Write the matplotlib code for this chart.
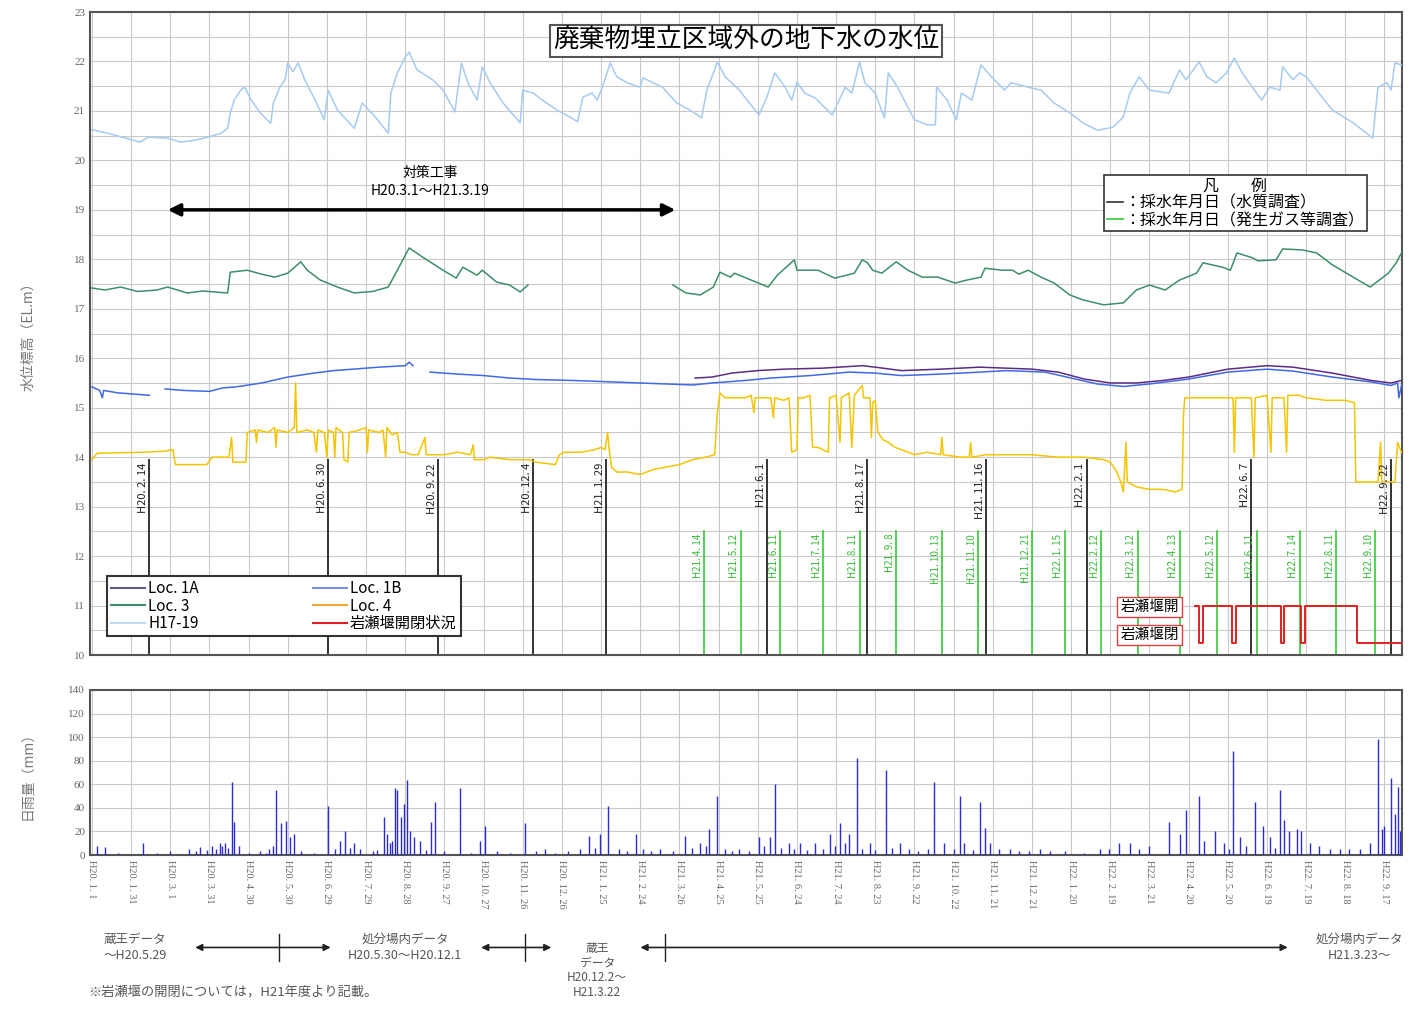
import matplotlib
matplotlib.use("Agg")
import matplotlib.pyplot as plt
import numpy as np
from matplotlib.lines import Line2D
from datetime import date

plt.rcParams['font.family'] = ['Noto Sans CJK JP', 'DejaVu Sans']

# ---- data (day = days since H20.1.1) ----
h17_days = [0, 12, 37, 43, 58, 68, 79, 89, 99, 104, 106, 109, 114, 117, 122, 129, 137, 139, 144, 148, 150, 154, 158,
            163, 171, 178, 181, 188, 201, 207, 217, 227, 229, 234, 240, 243, 249, 261, 269, 278, 283, 288, 295, 299,
            305, 315, 328, 330, 338, 345, 356, 366, 372, 376, 383, 387, 391, 397, 402, 410, 420, 422, 437, 448, 458,
            467, 471, 476, 479, 485, 496, 500, 511, 517, 523, 531, 536, 540, 546, 554, 567, 577, 582, 588, 592, 600,
            607, 610, 617, 630, 640, 646, 647, 655, 662, 666, 674, 681, 689, 699, 704, 717, 727, 737, 749, 759, 770,
            782, 790, 795, 802, 810, 825, 833, 838, 848, 854, 861, 869, 875, 881, 892, 896, 902, 910, 912, 920, 925,
            930, 938, 950, 966, 981, 985, 992, 995, 998, 1003]
h17_vals = [20.62, 20.55, 20.37, 20.47, 20.45, 20.37, 20.41, 20.47, 20.55, 20.65, 20.96, 21.22, 21.42, 21.48, 21.22,
            20.96, 20.75, 21.16, 21.48, 21.63, 21.97, 21.79, 21.97, 21.63, 21.22, 20.82, 21.42, 21.02, 20.65, 21.16,
            20.88, 20.55, 21.36, 21.77, 22.09, 22.19, 21.83, 21.63, 21.42, 20.98, 21.97, 21.57, 21.22, 21.89, 21.57,
            21.16, 20.76, 21.42, 21.36, 21.22, 21.02, 20.88, 20.78, 21.28, 21.36, 21.22, 21.48, 21.97, 21.69, 21.57,
            21.48, 21.67, 21.48, 21.16, 21.02, 20.86, 21.42, 21.77, 21.99, 21.69, 21.42, 21.28, 20.92, 21.28, 21.77,
            21.48, 21.22, 21.58, 21.36, 21.26, 20.92, 21.48, 21.36, 21.99, 21.57, 21.36, 20.86, 21.77, 21.48, 20.82,
            20.72, 20.72, 21.48, 21.22, 20.82, 21.36, 21.22, 21.93, 21.69, 21.42, 21.57, 21.48, 21.42, 21.16, 20.96,
            20.76, 20.61, 20.67, 20.88, 21.36, 21.69, 21.42, 21.36, 21.83, 21.63, 21.99, 21.69, 21.57, 21.77, 22.07,
            21.77, 21.36, 21.22, 21.48, 21.42, 21.89, 21.63, 21.77, 21.69, 21.42, 21.02, 20.76, 20.45, 21.48, 21.57,
            21.42, 21.97, 21.93]

loc3_days = [0, 10, 22, 35, 50, 58, 73, 85, 94, 104, 106, 119, 130, 140, 150, 160, 165, 175, 188, 201, 215, 227, 237,
             243, 253, 269, 279, 284, 295, 299, 310, 320, 328, 334, 335,
             445, 455, 466, 476, 481, 489, 492, 505, 518, 525, 538, 540, 556, 569, 584, 590, 594, 598, 605, 616, 625,
             636, 648, 661, 670, 681, 684, 697, 705, 710, 717, 727, 737, 749, 759, 775, 790, 800, 810, 822, 833, 846,
             851, 866, 872, 877, 889, 893, 907, 912, 927, 938, 950, 966, 979, 986, 993, 999, 1003]
loc3_vals = [17.42, 17.38, 17.44, 17.35, 17.38, 17.44, 17.32, 17.36, 17.34, 17.32, 17.74, 17.78, 17.7, 17.64, 17.72,
             17.95, 17.78, 17.58, 17.44, 17.32, 17.35, 17.44, 17.93, 18.23, 18.05, 17.78, 17.62, 17.84, 17.68, 17.78,
             17.54, 17.48, 17.34, 17.48, np.nan,
             17.48, 17.32, 17.28, 17.44, 17.74, 17.64, 17.72, 17.58, 17.44, 17.68, 17.99, 17.78, 17.78, 17.62, 17.72,
             17.99, 17.93, 17.78, 17.72, 17.95, 17.78, 17.64, 17.64, 17.52, 17.58, 17.64, 17.82, 17.78, 17.78, 17.7,
             17.78, 17.64, 17.52, 17.28, 17.18, 17.08, 17.12, 17.38, 17.48, 17.38, 17.58, 17.72, 17.93, 17.84, 17.78,
             18.13, 18.03, 17.97, 17.99, 18.21, 18.19, 18.13, 17.89, 17.64, 17.44, 17.58, 17.72, 17.93, 18.13]

loc1b_days = [0, 6, 8, 9, 20, 35, 44, 45,
              56, 70, 90, 100, 110, 130, 150, 170, 185, 200, 220, 240, 243, 246, 247,
              259, 280, 300, 320, 340, 370, 400, 420, 440, 460, 475, 500, 520, 550, 580, 600, 620, 650, 680, 700,
              730, 750, 770, 790, 810, 840, 870, 900, 920, 950, 980, 995, 1000, 1001, 1003]
loc1b_vals = [15.42, 15.35, 15.2, 15.35, 15.3, 15.27, 15.25, np.nan,
              15.38, 15.35, 15.33, 15.4, 15.42, 15.5, 15.62, 15.7, 15.75, 15.78, 15.82, 15.85, 15.92, 15.85, np.nan,
              15.72, 15.68, 15.65, 15.6, 15.57, 15.55, 15.52, 15.5, 15.48, 15.46, 15.5, 15.55, 15.6, 15.65, 15.72,
              15.7, 15.65, 15.68, 15.72, 15.75, 15.72, 15.6, 15.48, 15.43, 15.48, 15.58, 15.72, 15.78, 15.74, 15.62,
              15.52, 15.45, 15.5, 15.2, 15.45]

loc1a_days = [462, 475, 490, 510, 530, 560, 590, 600, 620, 650, 680, 700, 720, 740, 760, 780, 800, 820, 840, 870, 900,
              920, 950, 980, 995, 1003]
loc1a_vals = [15.6, 15.62, 15.7, 15.75, 15.78, 15.8, 15.85, 15.82, 15.75, 15.78, 15.82, 15.8, 15.78, 15.72, 15.58,
              15.5, 15.5, 15.55, 15.62, 15.78, 15.85, 15.82, 15.7, 15.55, 15.5, 15.55]

loc4_days = [0, 4, 40, 55, 62, 64, 88, 92, 105, 107, 108, 118, 119, 125, 126, 127, 135, 140, 141, 142, 150, 155, 156,
             157, 165, 170, 172, 173, 178, 180, 181, 185, 186, 187, 192, 193, 196, 197, 205, 210, 211, 212, 220, 223,
             225, 226, 230, 234, 236, 240, 245, 250, 255, 256, 270, 280, 290, 292, 293, 300, 305, 320, 335, 340, 355,
             358, 362, 375, 385, 390, 393, 395, 396, 398, 402, 410, 420, 430, 440, 450, 460, 470, 477, 479, 481, 485,
             500, 505, 507, 508, 520, 522, 523, 530, 534, 536, 540, 541, 545, 550, 552, 556, 560, 564, 565, 570, 573,
             574, 580, 582, 584, 590, 591, 596, 597, 598, 600, 602, 606, 610, 615, 625, 630, 640, 650, 651, 652, 665,
             672, 673, 674, 685, 700, 720, 740, 760, 775, 780, 785, 788, 790, 792, 793, 800, 810, 820, 830, 835, 836,
             837, 845, 860, 874, 875, 876, 888, 890, 891, 900, 903, 904, 913, 915, 916, 925, 930, 945, 960, 967, 968,
             980, 985, 987, 988, 998, 1000, 1003]
loc4_vals = [13.95, 14.08, 14.1, 14.12, 14.15, 13.85, 13.85, 14.0, 14.0, 14.4, 13.9, 13.9, 14.5, 14.55, 14.3, 14.55,
             14.5, 14.6, 14.2, 14.55, 14.5, 14.6, 15.5, 14.5, 14.55, 14.5, 14.1, 14.55, 14.5, 14.0, 14.55, 14.5, 14.0,
             14.6, 14.5, 13.95, 13.9, 14.5, 14.55, 14.6, 14.1, 14.55, 14.5, 14.55, 14.0, 14.6, 14.45, 14.5, 14.1, 14.1,
             14.05, 14.05, 14.4, 14.05, 14.05, 14.1, 14.05, 14.25, 13.95, 13.95, 14.0, 13.95, 13.95, 13.9, 13.85, 14.05,
             14.1, 14.1, 14.15, 14.2, 14.15, 14.5, 14.2, 13.8, 13.7, 13.7, 13.65, 13.75, 13.8, 13.85, 13.95, 14.0,
             14.05, 14.9, 15.3, 15.2, 15.2, 15.25, 14.9, 15.2, 15.2, 14.8, 15.2, 15.15, 15.2, 14.1, 14.15, 15.2, 15.2,
             15.25, 14.2, 14.2, 14.15, 14.1, 15.2, 15.25, 14.3, 15.2, 15.3, 14.2, 15.25, 15.45, 15.2, 15.2, 14.4, 15.1,
             15.15, 14.5, 14.35, 14.3, 14.2, 14.1, 14.05, 14.1, 14.05, 14.4, 14.05, 14.0, 14.0, 14.3, 14.0, 14.05, 14.05,
             14.05, 14.0, 14.0, 13.95, 13.9, 13.7, 13.5, 13.3, 14.3, 13.5, 13.4, 13.35, 13.35, 13.3, 13.35, 14.8, 15.2,
             15.2, 15.2, 15.2, 14.1, 15.2, 15.2, 14.0, 15.2, 15.25, 14.1, 15.2, 15.2, 14.1, 15.25, 15.25, 15.2, 15.15,
             15.15, 15.1, 13.5, 13.5, 13.5, 14.3, 13.5, 13.5, 14.3, 14.1]

weir_days = [845, 848, 848, 851, 851, 873, 873, 876, 876, 911, 911, 913, 913, 926, 926, 929, 929, 969, 969, 1003]
weir_vals = [11.0, 11.0, 10.25, 10.25, 11.0, 11.0, 10.25, 10.25, 11.0, 11.0, 10.25, 10.25, 11.0, 11.0, 10.25, 10.25,
             11.0, 11.0, 10.25, 10.25]

quality_dates = ['H20.2.14', 'H20.6.30', 'H20.9.22', 'H20.12.4', 'H21.1.29', 'H21.6.1', 'H21.8.17', 'H21.11.16',
                 'H22.2.1', 'H22.6.7', 'H22.9.22']
gas_dates = ['H21.4.14', 'H21.5.12', 'H21.6.11', 'H21.7.14', 'H21.8.11', 'H21.9.8', 'H21.10.13', 'H21.11.10',
             'H21.12.21', 'H22.1.15', 'H22.2.12', 'H22.3.12', 'H22.4.13', 'H22.5.12', 'H22.6.11', 'H22.7.14',
             'H22.8.11', 'H22.9.10']

rain_days = [4, 10, 20, 39, 50, 60, 74, 80, 83, 88,
             92, 95, 98, 100, 102, 104, 107, 109, 113, 120,
             129, 133, 136, 139, 141, 145, 149, 152, 155, 160,
             170, 181, 186, 190, 194, 198, 201, 205, 215, 218,
             224, 226, 228, 230, 232, 234, 237, 239, 241, 244,
             247, 251, 256, 260, 263, 270, 282, 290, 297, 301,
             310, 320, 332, 340, 347, 355, 365, 374, 381, 385,
             389, 395, 404, 410, 417, 422, 428, 435, 445, 454,
             460, 466, 470, 473, 479, 485, 490, 496, 503, 511,
             515, 519, 523, 528, 534, 538, 542, 548, 554, 560,
             565, 569, 573, 577, 580, 586, 590, 596, 600, 608,
             613, 619, 626, 633, 640, 645, 653, 660, 665, 668,
             675, 680, 684, 688, 695, 703, 710, 718, 726, 734,
             745, 760, 772, 779, 787, 795, 802, 810, 825, 833,
             838, 848, 852, 860, 867, 871, 874, 879, 884, 891,
             897, 902, 906, 910, 913, 917, 923, 926, 933, 940,
             948, 956, 963, 971, 979, 985, 988, 990, 995, 998,
             1000, 1002]
rain_mm = [8, 7, 2, 10, 2, 3, 5, 3, 7, 4,
           8, 5, 10, 8, 10, 6, 62, 28, 8, 2,
           3, 2, 5, 8, 55, 27, 29, 15, 18, 3,
           2, 42, 5, 12, 20, 6, 10, 5, 3, 4,
           32, 18, 10, 12, 57, 55, 32, 43, 64, 20,
           15, 12, 4, 28, 45, 3, 57, 2, 12, 25,
           3, 2, 27, 3, 5, 2, 3, 5, 16, 6,
           18, 42, 5, 3, 18, 5, 3, 5, 3, 16,
           6, 10, 8, 22, 50, 5, 3, 5, 3, 15,
           8, 15, 60, 6, 10, 5, 10, 4, 10, 5,
           18, 8, 27, 10, 18, 82, 5, 10, 4, 72,
           6, 10, 5, 3, 5, 62, 10, 5, 50, 10,
           4, 45, 23, 10, 5, 5, 3, 3, 5, 3,
           3, 2, 5, 5, 10, 10, 5, 8, 28, 18,
           38, 50, 12, 20, 10, 5, 88, 15, 8, 45,
           25, 15, 6, 55, 30, 20, 22, 20, 10, 8,
           5, 5, 5, 5, 10, 98, 22, 25, 65, 35,
           58, 20]

xtick_labels = ['H20. 1. 1', 'H20. 1. 31', 'H20. 3. 1', 'H20. 3. 31', 'H20. 4. 30', 'H20. 5. 30', 'H20. 6. 29',
                'H20. 7. 29', 'H20. 8. 28', 'H20. 9. 27', 'H20. 10. 27', 'H20. 11. 26', 'H20. 12. 26', 'H21. 1. 25',
                'H21. 2. 24', 'H21. 3. 26', 'H21. 4. 25', 'H21. 5. 25', 'H21. 6. 24', 'H21. 7. 24', 'H21. 8. 23',
                'H21. 9. 22', 'H21. 10. 22', 'H21. 11. 21', 'H21. 12. 21', 'H22. 1. 20', 'H22. 2. 19', 'H22. 3. 21',
                'H22. 4. 20', 'H22. 5. 20', 'H22. 6. 19', 'H22. 7. 19', 'H22. 8. 18', 'H22. 9. 17']


def hday(s):
    y, m, d = s[1:].split('.')
    return (date(1988 + int(y), int(m), int(d)) - date(2008, 1, 1)).days


def hlabel(s):
    return s.replace('.', '. ')


xticks = np.arange(len(xtick_labels)) * 30
XMIN, XMAX = -1.5, 1003.5
grid_c = '#c9c9c9'
tick_font = dict(family=['Liberation Serif', 'DejaVu Serif'], color='#666666')

fig = plt.figure(figsize=(14.14, 10.09), dpi=100)
ax = fig.add_axes([0.0636, 0.3508, 0.928, 0.6373])
ax2 = fig.add_axes([0.0636, 0.1526, 0.928, 0.1636])

# ---- top panel ----
ax.set_xlim(XMIN, XMAX)
ax.set_ylim(10, 23)
ax.set_xticks(xticks)
ax.set_xticklabels([])
ax.set_yticks(range(10, 24))
ax.set_yticks(np.arange(10, 23, 0.5), minor=True)
ax.grid(True, which='both', color=grid_c, lw=0.8)
ax.tick_params(length=0, which='both')
for t in ax.get_yticklabels():
    t.set(**tick_font, fontsize=8)
for s in ax.spines.values():
    s.set_color('#555555')
    s.set_linewidth(1.5)
ax.set_ylabel('水位標高（EL.m）', color='#777777', fontsize=10, labelpad=28)

ax.plot(h17_days, h17_vals, color='#a6cbf2', lw=1.1, zorder=3)
ax.plot(loc3_days, loc3_vals, color='#3c8f68', lw=1.1, zorder=3)
ax.plot(loc1b_days, loc1b_vals, color='#4169e1', lw=1.1, zorder=3)
ax.plot(loc1a_days, loc1a_vals, color='#5b2c83', lw=1.1, zorder=4)
ax.plot(loc4_days, loc4_vals, color='#f5c400', lw=1.1, zorder=3)
ax.plot(weir_days, weir_vals, color='#e02020', lw=1.4, zorder=5)

for s in quality_dates:
    d = hday(s)
    ax.plot([d, d], [10, 13.95], color='#333333', lw=1.4, zorder=2)
    ax.text(d - 1, 13.88, hlabel(s), rotation=90, ha='right', va='top', fontsize=8, color='#222222')
for s in gas_dates:
    d = hday(s)
    ax.plot([d, d], [10, 12.5], color='#33cc33', lw=1.2, zorder=2)
    ax.text(d - 1, 12.45, hlabel(s), rotation=90, ha='right', va='top', fontsize=7, color='#33bb33')

# title
ax.text(0.5, 0.955, '廃棄物埋立区域外の地下水の水位', transform=ax.transAxes, ha='center', va='center',
        fontsize=18.5, bbox=dict(boxstyle='square,pad=0.12', fc='white', ec='#555555', lw=1.5), zorder=6)

# countermeasure work arrow
ax.annotate('', xy=(56, 19.0), xytext=(449, 19.0),
            arrowprops=dict(arrowstyle='<|-|>', color='black', lw=2.5, mutation_scale=18), zorder=6)
ax.text(259, 19.75, '対策工事', ha='center', va='center', fontsize=10)
ax.text(259, 19.38, 'H20.3.1～H21.3.19', ha='center', va='center', fontsize=10)

# weir labels
box = dict(boxstyle='square,pad=0.2', fc='white', ec='#e04040', lw=1)
ax.text(810, 10.97, '岩瀬堰開', ha='center', va='center', fontsize=10.5, bbox=box, zorder=6)
ax.text(810, 10.4, '岩瀬堰閉', ha='center', va='center', fontsize=10.5, bbox=box, zorder=6)

# series legend
handles = [Line2D([], [], color='#6a5a8a', lw=1.5), Line2D([], [], color='#3c8f68', lw=1.5),
           Line2D([], [], color='#c0d8f0', lw=1.5), Line2D([], [], color='#7b8ee8', lw=1.5),
           Line2D([], [], color='#f0a830', lw=1.5), Line2D([], [], color='#e02020', lw=1.5)]
labels = ['Loc. 1A', 'Loc. 3', 'H17-19', 'Loc. 1B', 'Loc. 4', '岩瀬堰開閉状況']
leg = ax.legend(handles, labels, ncol=2, loc='lower left', bbox_to_anchor=(0.007, 0.017), fontsize=11,
                frameon=True, fancybox=False, edgecolor='#333333', framealpha=1, handlelength=2.2,
                handletextpad=0.2, columnspacing=7.5, labelspacing=0.02, borderpad=0.3)
leg.get_frame().set_linewidth(1.5)
leg.set_zorder(7)
ax.add_artist(leg)

# sampling legend
h2 = [Line2D([], [], color='#333333', lw=1.2), Line2D([], [], color='#33cc33', lw=1.2)]
leg2 = ax.legend(h2, ['：採水年月日（水質調査）', '：採水年月日（発生ガス等調査）'], loc='upper right',
                 bbox_to_anchor=(0.979, 0.759), title='凡　　例', title_fontsize=11.5, fontsize=11.5,
                 frameon=True, fancybox=False, edgecolor='#333333', framealpha=1, handlelength=1.0,
                 handletextpad=0.1, labelspacing=0.02, borderpad=0.15)
leg2.get_frame().set_linewidth(1.2)
leg2.set_zorder(7)

# ---- bottom panel (rain) ----
ax2.set_xlim(XMIN, XMAX)
ax2.set_ylim(0, 140)
ax2.set_xticks(xticks)
ax2.set_xticklabels(xtick_labels, rotation=-90, fontsize=7.5, **tick_font)
ax2.set_yticks(range(0, 141, 20))
for t in ax2.get_yticklabels():
    t.set(**tick_font, fontsize=8)
ax2.grid(True, color=grid_c, lw=0.8)
ax2.tick_params(length=0)
for s in ax2.spines.values():
    s.set_color('#555555')
    s.set_linewidth(1.5)
ax2.vlines(rain_days, 0, rain_mm, color='#2b2bd0', lw=1.0, zorder=3)
ax2.set_ylabel('日雨量（mm）', color='#777777', fontsize=10, labelpad=24)

# data source annotations
ty = -0.56
tr = ax2.get_xaxis_transform()
src_col = '#555555'
for x0, x1, xm in [(77, 185, 143), (296, 354, 332), (418, 918, 439)]:
    ax2.annotate('', xy=(x0, ty), xytext=(x1, ty), xycoords=tr, textcoords=tr,
                 arrowprops=dict(arrowstyle='<|-|>', color='#222222', lw=1.2, mutation_scale=10))
    ax2.plot([xm, xm], [ty - 0.08, ty + 0.08], color='#222222', lw=1, transform=tr, clip_on=False)
ax2.text(33, ty, '蔵王データ\n～H20.5.29', transform=tr, ha='center', va='center', fontsize=9,
         color=src_col, linespacing=1.4)
ax2.text(240, ty, '処分場内データ\nH20.5.30～H20.12.1', transform=tr, ha='center', va='center', fontsize=9,
         color=src_col, linespacing=1.4)
ax2.text(387, -0.70, '蔵王\nデータ\nH20.12.2～\nH21.3.22', transform=tr, ha='center', va='center', fontsize=8.5,
         color=src_col, linespacing=1.15)
ax2.text(971, ty, '処分場内データ\nH21.3.23～', transform=tr, ha='center', va='center', fontsize=9,
         color=src_col, linespacing=1.4)
fig.text(0.062, 0.012, '※岩瀬堰の開閉については，H21年度より記載。', fontsize=9.5, color=src_col)

fig.savefig('out.png', dpi=100)
